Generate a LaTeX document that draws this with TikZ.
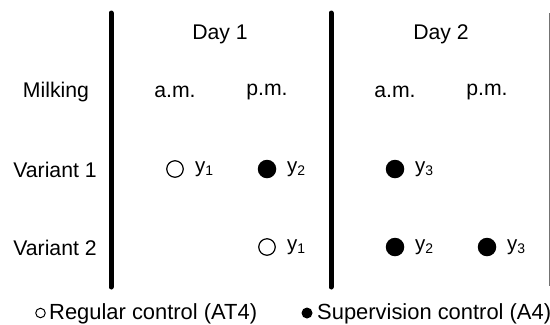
\documentclass[tikz,border=0pt]{standalone}
\usepackage{fontspec}
\setmainfont{Liberation Sans}
% y with a lowered index digit
\newcommand\yidx[1]{y\raisebox{-3bp}{\fontsize{14}{14}\selectfont #1}}
\begin{document}
\begin{tikzpicture}[x=1bp,y=-1bp,
  txt/.style={font=\fontsize{21.3}{21.3}\selectfont, anchor=base, inner sep=0pt},
  legtxt/.style={font=\fontsize{22}{22}\selectfont, anchor=base west, inner sep=0pt},
  ylbl/.style={font=\fontsize{20.5}{20.5}\selectfont, anchor=base west, inner sep=0pt},
  regular/.style={circle, draw, line width=1.2bp, minimum size=16.5bp, inner sep=0pt},
  supervision/.style={circle, fill, minimum size=18.5bp, inner sep=0pt},
  regsmall/.style={circle, draw, line width=1bp, minimum size=9.5bp, inner sep=0pt},
  supsmall/.style={circle, fill, minimum size=11bp, inner sep=0pt},
  divider/.style={line width=5bp, line cap=round},
  edge/.style={line width=1bp, draw=black!55}]
\useasboundingbox (0,0) rectangle (550,324);

% column dividers
\coordinate (d1top) at (111,13);  \coordinate (d1bot) at (111,287);
\coordinate (d2top) at (331,13);  \coordinate (d2bot) at (331,287);
\coordinate (d3top) at (549,13);  \coordinate (d3bot) at (549,286);
\draw[divider] (d1top) -- (d1bot);
\draw[divider] (d2top) -- (d2bot);
\draw[edge] (d3top) -- (d3bot);

% headers
\node[txt] (day1) at (220,39) {Day 1};
\node[txt] (day2) at (441,39) {Day 2};
\node[txt] (milking) at (56,97) {Milking};
\node[txt] (am1) at (175,97) {a.m.};
\node[txt] (pm1) at (267,95) {p.m.};
\node[txt] (am2) at (395,97) {a.m.};
\node[txt] (pm2) at (487,95) {p.m.};

% rows
\node[txt] (var1) at (55,177) {Variant 1};
\node[txt] (var2) at (55,255) {Variant 2};

% variant 1
\node[regular] (v1a) at (175,169) {};
\node[ylbl] (v1al) at (195,172) {\yidx1};
\node[supervision] (v1b) at (267,169) {};
\node[ylbl] (v1bl) at (287,172) {\yidx2};
\node[supervision] (v1c) at (395,169) {};
\node[ylbl] (v1cl) at (415,172) {\yidx3};

% variant 2
\node[regular] (v2a) at (267,247) {};
\node[ylbl] (v2al) at (287,250) {\yidx1};
\node[supervision] (v2b) at (395,247) {};
\node[ylbl] (v2bl) at (415,250) {\yidx2};
\node[supervision] (v2c) at (487,247) {};
\node[ylbl] (v2cl) at (507,250) {\yidx3};

% legend
\node[regsmall] (legreg) at (40.5,313) {};
\node[legtxt] (legregt) at (49,319) {Regular control (AT4)};
\node[supsmall] (legsup) at (307,313) {};
\node[legtxt] (legsupt) at (317,319) {Supervision control (A4)};
\end{tikzpicture}
\end{document}
